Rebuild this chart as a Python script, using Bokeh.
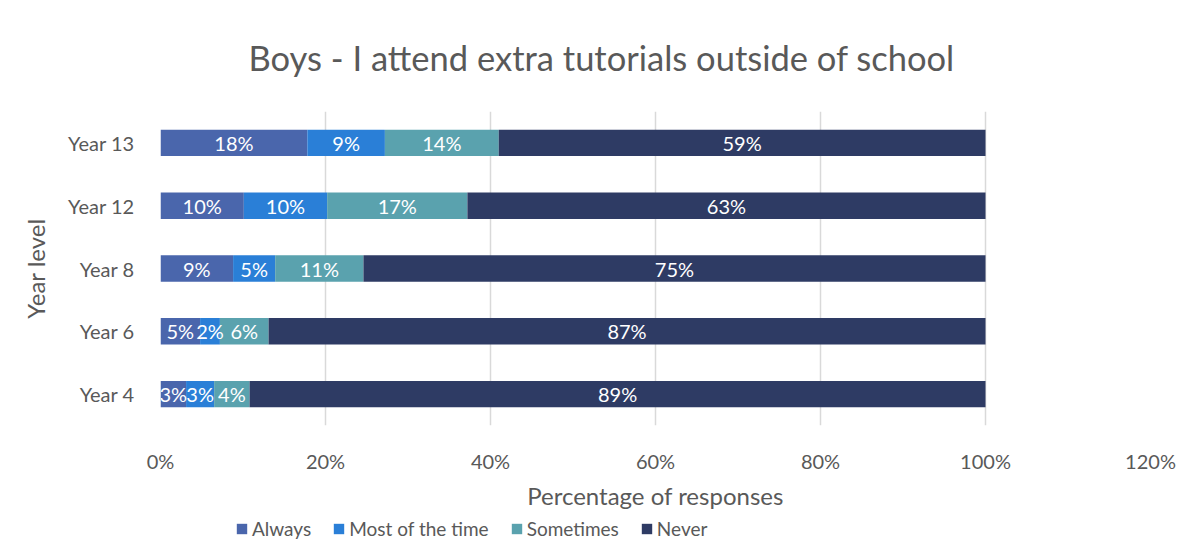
from bokeh.plotting import figure
from bokeh.models import (ColumnDataSource, Range1d, FactorRange, NumeralTickFormatter,
                          FixedTicker, Legend, LegendItem)
from bokeh.layouts import column
from bokeh.core.properties import value
from bokeh.embed import file_html
from bokeh.resources import INLINE

years = ["Year 4", "Year 6", "Year 8", "Year 12", "Year 13"]
series = ["Always", "Most of the time", "Sometimes", "Never"]
always = [3.1, 4.8, 8.8, 10.1, 17.8]
most = [3.4, 2.4, 5.1, 10.1, 9.4]
sometimes = [4.3, 5.9, 10.7, 17.0, 13.8]
never = [89.2, 86.9, 75.4, 62.8, 59.0]
x_ticks = [0, 0.2, 0.4, 0.6, 0.8, 1.0, 1.2]

colors = ["#4a66ac", "#2a7fd7", "#5aa2ae", "#2e3b64"]
FONT = "Lato"
GREY = "#595959"

vals = [always, most, sometimes, never]
keys = ["always", "most", "sometimes", "never"]
data = {"year": years}
for k, v in zip(keys, vals):
    data[k] = [x / 100 for x in v]
source = ColumnDataSource(data)

p = figure(width=1184, height=512, y_range=FactorRange(*years), x_range=Range1d(0, 1.2),
           output_backend="svg", toolbar_location=None,
           min_border_left=160, min_border_right=34, min_border_top=111, min_border_bottom=82,
           title="Boys - I attend extra tutorials outside of school")

p.hbar_stack(keys, y="year", height=0.42, color=colors, line_color=None, source=source)

# labels centered in segments
lx, ly, lt = [], [], []
for i, y in enumerate(years):
    cum = 0.0
    for v in vals:
        val = v[i]
        lx.append((cum + val / 2) / 100)
        ly.append(y)
        lt.append(f"{round(val)}%")
        cum += val
p.text(x=lx, y=ly, text=lt, text_align="center", text_baseline="middle",
       text_color="white", text_font=value(FONT), text_font_size="20px")

p.title.align = "left"
p.title.offset = 88
p.title.text_font = FONT
p.title.text_font_size = "34.5px"
p.title.text_font_style = "normal"
p.title.text_color = GREY
p.title.standoff = 68

p.xaxis.ticker = FixedTicker(ticks=x_ticks)
p.xaxis.formatter = NumeralTickFormatter(format="0%")
p.xaxis.axis_label = "Percentage of responses"
p.yaxis.axis_label = "Year level"
for ax in (p.xaxis, p.yaxis):
    ax.axis_line_color = None
    ax.major_tick_line_color = None
    ax.minor_tick_line_color = None
    ax.major_label_text_font = FONT
    ax.major_label_text_font_size = "20px"
    ax.major_label_text_color = GREY
    ax.axis_label_text_font = FONT
    ax.axis_label_text_font_size = "24px"
    ax.axis_label_text_font_style = "normal"
    ax.axis_label_text_color = GREY
p.xaxis.major_label_standoff = 17
p.xaxis.axis_label_standoff = 5
p.yaxis.major_label_standoff = 20
p.yaxis.axis_label_standoff = 15

p.ygrid.grid_line_color = None
p.xgrid.ticker = FixedTicker(ticks=x_ticks)
p.xgrid.grid_line_color = "#d9d9d9"
p.xgrid.grid_line_width = 1.5
p.outline_line_color = None

# legend strip below the chart (frame aligned with the chart's frame)
p2 = figure(width=1184, height=30, x_range=Range1d(0, 1), y_range=Range1d(0, 1),
            output_backend="svg", toolbar_location=None, x_axis_type=None, y_axis_type=None,
            min_border=0)
p2.grid.visible = False
p2.outline_line_color = None
items = []
for s, c in zip(series, colors):
    r = p2.hbar(y=[-50], left=[10], right=[11], height=0.5, color=c, line_color=None)
    items.append(LegendItem(label=s, renderers=[r]))
lg = Legend(items=items, orientation="horizontal", location=(75, 2))
lg.padding = 0
lg.margin = 0
lg.spacing = 21
lg.glyph_width = 13
lg.glyph_height = 13
lg.label_text_font = FONT
lg.label_text_font_size = "19px"
lg.label_text_color = GREY
lg.label_standoff = 4
lg.background_fill_alpha = 0
lg.border_line_color = None
p2.add_layout(lg, "center")

layout = column(p, p2, spacing=0)
open("out.html", "w").write(file_html(layout, INLINE))
